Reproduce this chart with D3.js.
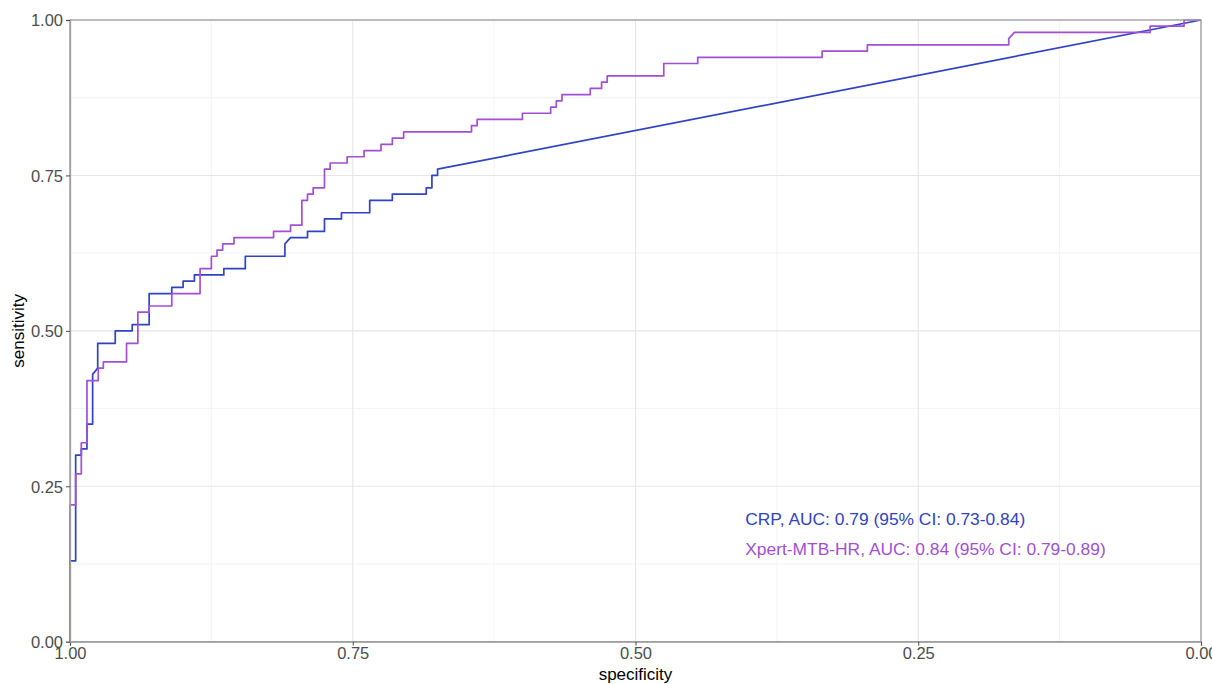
<!DOCTYPE html>
<html>
<head>
<meta charset="utf-8">
<script src="https://cdn.jsdelivr.net/npm/d3@7/dist/d3.min.js"></script>
<style>
  html, body { margin: 0; padding: 0; background: #fff; }
  svg { display: block; font-family: "Liberation Sans", Arial, sans-serif; }
</style>
</head>
<body>
<svg id="chart" width="1212" height="684"></svg>
<script>
// ---- Data ----
const crpSpecificity = [1, 1, 0.995, 0.995, 0.99, 0.99, 0.985, 0.985, 0.98, 0.98, 0.9755, 0.9755, 0.96, 0.96, 0.945, 0.945, 0.93, 0.93, 0.91, 0.91, 0.90, 0.90, 0.89, 0.89, 0.864, 0.864, 0.845, 0.845, 0.81, 0.81, 0.805, 0.79, 0.79, 0.775, 0.775, 0.76, 0.76, 0.735, 0.735, 0.715, 0.715, 0.685, 0.685, 0.68, 0.68, 0.675, 0.675, 0];
const crpSensitivity = [0, 0.13, 0.13, 0.30, 0.30, 0.31, 0.31, 0.35, 0.35, 0.43, 0.44, 0.48, 0.48, 0.50, 0.50, 0.51, 0.51, 0.56, 0.56, 0.57, 0.57, 0.58, 0.58, 0.59, 0.59, 0.60, 0.60, 0.62, 0.62, 0.64, 0.65, 0.65, 0.66, 0.66, 0.68, 0.68, 0.69, 0.69, 0.71, 0.71, 0.72, 0.72, 0.73, 0.73, 0.75, 0.75, 0.76, 1];

const xpertSpecificity = [1, 1, 0.995, 0.995, 0.99, 0.99, 0.985, 0.985, 0.975, 0.975, 0.9705, 0.9705, 0.95, 0.95, 0.94, 0.94, 0.93, 0.93, 0.91, 0.91, 0.885, 0.885, 0.875, 0.875, 0.87, 0.87, 0.865, 0.865, 0.855, 0.855, 0.82, 0.82, 0.805, 0.805, 0.795, 0.795, 0.79, 0.79, 0.785, 0.785, 0.775, 0.775, 0.77, 0.77, 0.755, 0.755, 0.74, 0.74, 0.725, 0.725, 0.715, 0.715, 0.705, 0.705, 0.645, 0.645, 0.64, 0.64, 0.60, 0.60, 0.575, 0.575, 0.57, 0.57, 0.565, 0.565, 0.54, 0.54, 0.53, 0.53, 0.525, 0.525, 0.475, 0.475, 0.445, 0.445, 0.335, 0.335, 0.295, 0.295, 0.17, 0.17, 0.165, 0.045, 0.045, 0.015, 0.015, 0];
const xpertSensitivity = [0, 0.22, 0.22, 0.27, 0.27, 0.32, 0.32, 0.42, 0.42, 0.44, 0.44, 0.45, 0.45, 0.48, 0.48, 0.53, 0.53, 0.54, 0.54, 0.56, 0.56, 0.60, 0.60, 0.62, 0.62, 0.63, 0.63, 0.64, 0.64, 0.65, 0.65, 0.66, 0.66, 0.67, 0.67, 0.71, 0.71, 0.72, 0.72, 0.73, 0.73, 0.76, 0.76, 0.77, 0.77, 0.78, 0.78, 0.79, 0.79, 0.80, 0.80, 0.81, 0.81, 0.82, 0.82, 0.83, 0.83, 0.84, 0.84, 0.85, 0.85, 0.86, 0.86, 0.87, 0.87, 0.88, 0.88, 0.89, 0.89, 0.90, 0.90, 0.91, 0.91, 0.93, 0.93, 0.94, 0.94, 0.95, 0.95, 0.96, 0.96, 0.97, 0.98, 0.98, 0.99, 0.99, 1, 1];

const seriesNames = ["CRP", "Xpert-MTB-HR"];
const legendLabels = ["CRP, AUC: 0.79 (95% CI: 0.73-0.84)", "Xpert-MTB-HR, AUC: 0.84 (95% CI: 0.79-0.89)"];
const legendSensitivity = [0.188, 0.14];
const seriesColors = ["#3043c4", "#a24fd6"];
const majorTicks = [1.00, 0.75, 0.50, 0.25, 0.00];
const minorTicks = [0.875, 0.625, 0.375, 0.125];
const xTitle = "specificity";
const yTitle = "sensitivity";

// ---- Layout ----
const svg = d3.select("#chart");
const panel = { left: 70, right: 1201, top: 20, bottom: 641.7 };

const x = d3.scaleLinear().domain([1, 0]).range([panel.left, panel.right]);
const y = d3.scaleLinear().domain([0, 1]).range([panel.bottom, panel.top]);

// Grid
const grid = svg.append("g");
grid.selectAll("line.vminor").data(minorTicks).join("line")
  .attr("x1", d => x(d)).attr("x2", d => x(d)).attr("y1", panel.top).attr("y2", panel.bottom)
  .attr("stroke", "#ebebeb").attr("stroke-width", 0.6);
grid.selectAll("line.hminor").data(minorTicks).join("line")
  .attr("y1", d => y(d)).attr("y2", d => y(d)).attr("x1", panel.left).attr("x2", panel.right)
  .attr("stroke", "#ebebeb").attr("stroke-width", 0.6);
grid.selectAll("line.vmajor").data(majorTicks).join("line")
  .attr("x1", d => x(d)).attr("x2", d => x(d)).attr("y1", panel.top).attr("y2", panel.bottom)
  .attr("stroke", "#e6e6e6").attr("stroke-width", 1.1);
grid.selectAll("line.hmajor").data(majorTicks).join("line")
  .attr("y1", d => y(d)).attr("y2", d => y(d)).attr("x1", panel.left).attr("x2", panel.right)
  .attr("stroke", "#e6e6e6").attr("stroke-width", 1.1);

// Lines
const line = d3.line().x(d => x(d[0])).y(d => y(d[1]));
const series = [
  d3.zip(crpSpecificity, crpSensitivity),
  d3.zip(xpertSpecificity, xpertSensitivity)
];
svg.append("g").selectAll("path").data(series).join("path")
  .attr("d", line)
  .attr("fill", "none")
  .attr("stroke", (d, i) => seriesColors[i])
  .attr("stroke-width", 1.7)
  .attr("stroke-linejoin", "round");

// Panel border
svg.append("rect")
  .attr("x", panel.left).attr("y", panel.top)
  .attr("width", panel.right - panel.left).attr("height", panel.bottom - panel.top)
  .attr("fill", "none").attr("stroke", "#9e9e9e").attr("stroke-width", 1.3);

// Axes
const fmt = d3.format(".2f");
const xAxis = svg.append("g").attr("transform", `translate(0,${panel.bottom})`)
  .call(d3.axisBottom(x).tickValues(majorTicks).tickFormat(fmt).tickSize(4).tickPadding(2));
const yAxis = svg.append("g").attr("transform", `translate(${panel.left},0)`)
  .call(d3.axisLeft(y).tickValues(majorTicks).tickFormat(fmt).tickSize(4).tickPadding(3));
[xAxis, yAxis].forEach(a => {
  a.select(".domain").attr("stroke", "#9e9e9e").attr("stroke-width", 1.3);
  a.selectAll(".tick line").attr("stroke", "#4d4d4d").attr("stroke-width", 1);
  a.selectAll(".tick text").attr("fill", "#4d4d4d")
    .style("font-size", "16.5px").style("font-family", "'Liberation Sans', Arial, sans-serif");
});
yAxis.selectAll(".tick text").attr("dy", "0.36em");

// Axis titles
svg.append("text").attr("x", (panel.left + panel.right) / 2).attr("y", 680)
  .attr("text-anchor", "middle").attr("fill", "#000").style("font-size", "17px").text(xTitle);
svg.append("text").attr("transform", `translate(24,${(panel.top + panel.bottom) / 2}) rotate(-90)`)
  .attr("text-anchor", "middle").attr("fill", "#000").style("font-size", "17px").text(yTitle);

// Legend annotations
svg.append("g").selectAll("text").data(legendLabels).join("text")
  .attr("x", x(0.403))
  .attr("y", (d, i) => y(legendSensitivity[i]))
  .attr("fill", (d, i) => seriesColors[i])
  .style("font-size", "17.4px")
  .text(d => d);
</script>
</body>
</html>
